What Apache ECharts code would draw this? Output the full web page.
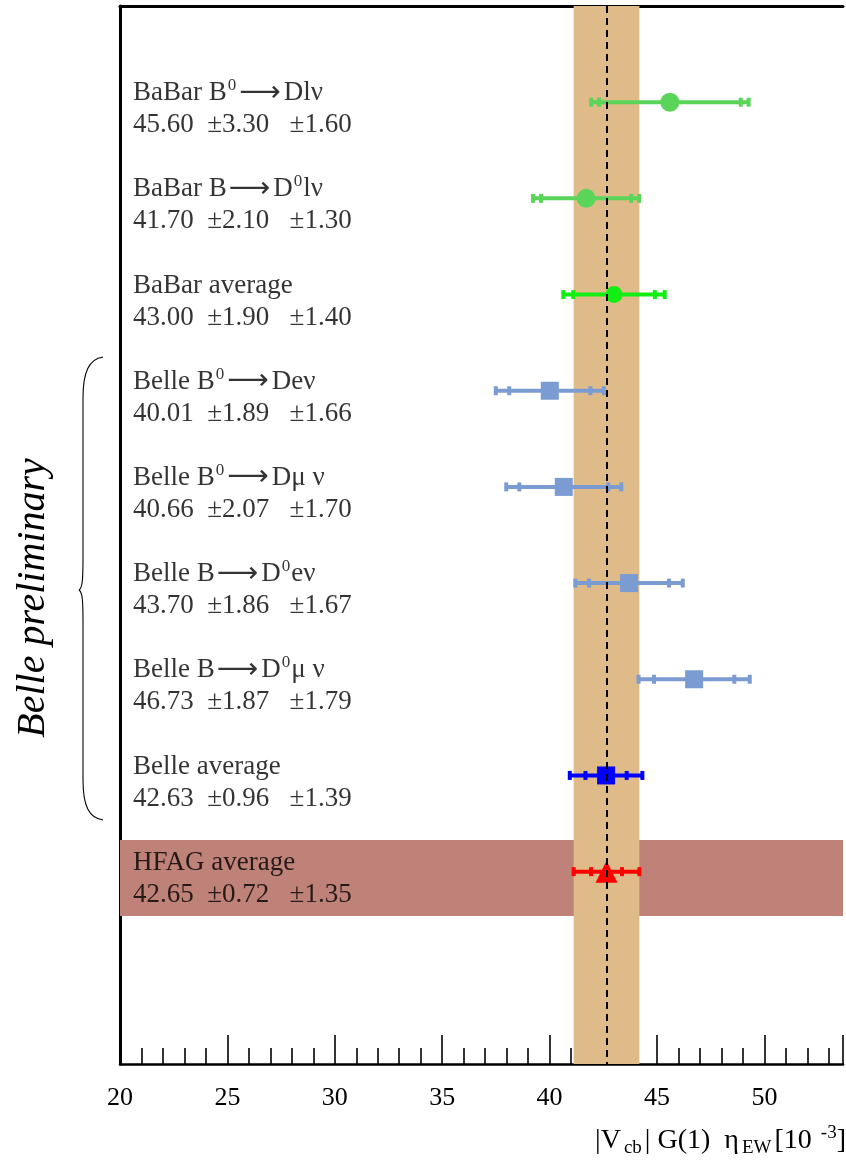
<!DOCTYPE html>
<html>
<head>
<meta charset="utf-8">
<script src="https://cdn.jsdelivr.net/npm/echarts@6/dist/echarts.min.js"></script>
<style>
  html, body { margin: 0; padding: 0; background: #fff; }
  #chart { width: 846px; height: 1163px; }
</style>
</head>
<body>
<div id="chart"></div>
<script>
// measurement names (rich text markup: {s|..} superscript, {a|..} arrow)
const names = [
  'BaBar B{s|0}{a|⟶}Dlν',
  'BaBar B{a|⟶}D{s|0}lν',
  'BaBar average',
  'Belle B{s|0}{a|⟶}Deν',
  'Belle B{s|0}{a|⟶}Dμ ν',
  'Belle B{a|⟶}D{s|0}eν',
  'Belle B{a|⟶}D{s|0}μ ν',
  'Belle average',
  'HFAG average'
];
const values = [45.60, 41.70, 43.00, 40.01, 40.66, 43.70, 46.73, 42.63, 42.65];
const statErr = [3.30, 2.10, 1.90, 1.89, 2.07, 1.86, 1.87, 0.96, 0.72];
const systErr = [1.60, 1.30, 1.40, 1.66, 1.70, 1.67, 1.79, 1.39, 1.35];
const kinds = ['babar', 'babar', 'babarAvg', 'belle', 'belle', 'belle', 'belle', 'belleAvg', 'hfag'];
const xTicks = [20, 25, 30, 35, 40, 45, 50];

const styles = {
  babar:    { color: '#5ad55a', symbol: 'circle',   size: 19 },
  babarAvg: { color: '#12ee12', symbol: 'circle',   size: 17 },
  belle:    { color: '#7b9bd3', symbol: 'rect',     size: 18 },
  belleAvg: { color: '#0000ff', symbol: 'rect',     size: 18 },
  hfag:     { color: '#ff0000', symbol: 'triangle', size: 22 }
};

const serif = '"Liberation Serif", "DejaVu Serif", serif';
const xMax = 53.66;
const hfagIdx = values.length - 1;
const hfagTot = Math.sqrt(statErr[hfagIdx] * statErr[hfagIdx] + systErr[hfagIdx] * systErr[hfagIdx]);
const hfagRows = [7.67, 8.46];

let barData = [];
let markData = [];
let labelData = [];
for (let i = 0; i < values.length; i++) {
  let tot = Math.sqrt(statErr[i] * statErr[i] + systErr[i] * systErr[i]);
  barData.push([values[i], i, statErr[i], tot, i]);
  let st = styles[kinds[i]];
  markData.push({
    value: [values[i], i],
    symbol: st.symbol,
    symbolSize: st.size,
    itemStyle: { color: st.color, opacity: 1 }
  });
  labelData.push({ value: [20, i], idx: i });
}

// curly brace next to the Belle rows
function braceCurve(x1, y1, cx1, cy1, cx2, cy2, x2, y2) {
  return {
    type: 'bezierCurve',
    shape: { x1: x1, y1: y1, cpx1: cx1, cpy1: cy1, cpx2: cx2, cpy2: cy2, x2: x2, y2: y2 },
    style: { stroke: '#000', lineWidth: 1.1, fill: null }
  };
}
function braceLine(x1, y1, x2, y2) {
  return {
    type: 'line',
    shape: { x1: x1, y1: y1, x2: x2, y2: y2 },
    style: { stroke: '#000', lineWidth: 1.1 }
  };
}

let chart = echarts.init(document.getElementById('chart'));

let option = {
  animation: false,
  grid: { left: 120, right: 0, top: 6, bottom: 99 },
  xAxis: [
    {
      type: 'value',
      min: 20,
      max: xMax,
      interval: 5,
      position: 'bottom',
      splitLine: { show: false },
      axisLine: { show: true, onZero: false, lineStyle: { color: '#000', width: 2.5 } },
      axisTick: { show: true, inside: true, length: 29, lineStyle: { color: '#000', width: 1.6 } },
      minorTick: { show: true, splitNumber: 5, length: 16, lineStyle: { color: '#000', width: 1.6 } },
      axisLabel: {
        color: '#000', fontFamily: serif, fontSize: 26, margin: 21,
        formatter: function (v) { return xTicks.indexOf(v) >= 0 ? String(v) : ''; }
      }
    },
    {
      type: 'value',
      min: 20,
      max: xMax,
      position: 'top',
      splitLine: { show: false },
      axisLine: { show: true, onZero: false, lineStyle: { color: '#000', width: 3 } },
      axisTick: { show: false },
      axisLabel: { show: false }
    }
  ],
  yAxis: {
    type: 'value',
    min: -1,
    max: 10,
    inverse: true,
    splitLine: { show: false },
    axisLine: { show: true, onZero: false, lineStyle: { color: '#000', width: 3 } },
    axisTick: { show: false },
    axisLabel: { show: false }
  },
  series: [
    {
      // bands and central line
      type: 'line',
      data: [],
      z: 1,
      markArea: {
        silent: true,
        data: [
          [
            { xAxis: 20, yAxis: hfagRows[0], itemStyle: { color: '#bf8279', opacity: 1 } },
            { xAxis: xMax, yAxis: hfagRows[1] }
          ],
          [
            { xAxis: values[hfagIdx] - hfagTot, yAxis: -1, itemStyle: { color: '#debb88', opacity: 1 } },
            { xAxis: values[hfagIdx] + hfagTot, yAxis: 10 }
          ]
        ]
      },
      markLine: {
        silent: true,
        symbol: 'none',
        label: { show: false },
        lineStyle: { color: '#000', type: [7, 5], width: 2 },
        data: [{ xAxis: values[hfagIdx] }]
      }
    },
    {
      type: 'custom',
      z: 3,
      data: barData,
      renderItem: function (params, api) {
        let v = api.value(0), row = api.value(1), stat = api.value(2), tot = api.value(3);
        let color = styles[kinds[api.value(4)]].color;
        let l = api.coord([v - tot, row]);
        let r = api.coord([v + tot, row]);
        let sl = api.coord([v - stat, row]);
        let sr = api.coord([v + stat, row]);
        let y = l[1];
        let kids = [{
          type: 'rect',
          shape: { x: l[0], y: y - 2, width: r[0] - l[0], height: 4 },
          style: { fill: color }
        }];
        [l[0], r[0], sl[0], sr[0]].forEach(function (x) {
          kids.push({
            type: 'rect',
            shape: { x: x - 2, y: y - 4.5, width: 4, height: 9 },
            style: { fill: color }
          });
        });
        return { type: 'group', children: kids };
      }
    },
    {
      type: 'scatter',
      z: 4,
      data: markData
    },
    {
      type: 'scatter',
      z: 5,
      symbolSize: 0,
      data: labelData,
      label: {
        show: true,
        position: 'right',
        distance: 0,
        offset: [13, 7],
        align: 'left',
        color: '#000',
        formatter: function (p) {
          let i = p.data.idx;
          let first = names[i].replace(/\{([sa])\|(.*?)\}/g, '}{$1|$2}{t|');
          return '{t|' + first + '}\n{t|' +
            values[i].toFixed(2) + '  ±' + statErr[i].toFixed(2) + '   ±' + systErr[i].toFixed(2) + '}';
        },
        rich: {
          t: { fontFamily: serif, fontSize: 27, color: '#000', lineHeight: 32 },
          a: { fontFamily: '"DejaVu Sans"', fontSize: 29, color: '#000', lineHeight: 32, padding: [0, 3, 0, 2] },
          s: { fontFamily: serif, fontSize: 17, color: '#000', lineHeight: 32, verticalAlign: 'top', padding: [0, 1, 13, 1] }
        }
      }
    }
  ],
  graphic: [
    {
      type: 'text',
      x: 33,
      y: 598,
      rotation: Math.PI / 2,
      style: {
        text: 'Belle preliminary',
        font: 'italic 40px ' + serif,
        fill: '#000',
        align: 'center',
        verticalAlign: 'middle'
      }
    },
    braceCurve(103, 357, 89, 359, 83, 372, 83, 398),
    braceLine(83, 398, 83, 560),
    braceCurve(83, 560, 83, 582, 82, 588, 79, 590),
    braceCurve(79, 590, 82, 592, 83, 598, 83, 620),
    braceLine(83, 620, 83, 780),
    braceCurve(83, 780, 83, 806, 89, 818, 103, 820),
    {
      type: 'text',
      right: 0,
      top: 1115,
      style: {
        text: '|V{sub|cb}| G(1)  η{sub|EW}[10 {sup|-3}]',
        fill: '#000',
        font: '28px ' + serif,
        rich: {
          sub: { fontFamily: serif, fontSize: 19, padding: [24, 3, 0, 3], verticalAlign: 'bottom', lineHeight: 34 },
          sup: { fontFamily: serif, fontSize: 19, padding: [0, 0, 14, 2], verticalAlign: 'top', lineHeight: 34 }
        }
      }
    }
  ]
};

chart.setOption(option);
</script>
</body>
</html>
